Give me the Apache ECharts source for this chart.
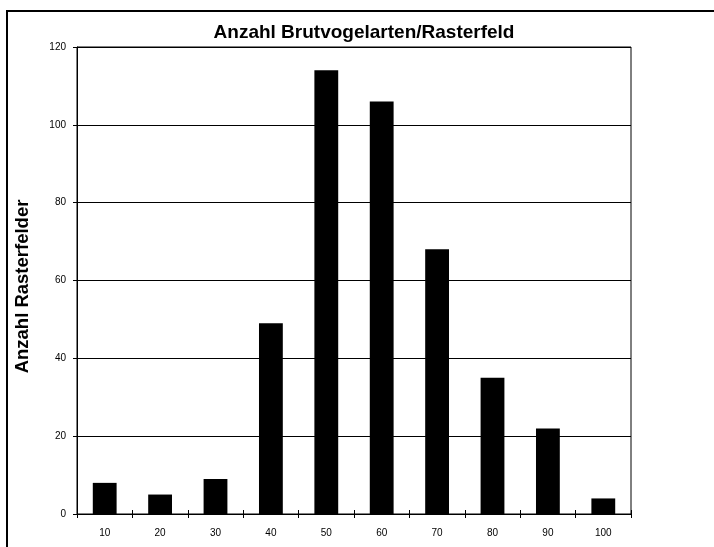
<!DOCTYPE html>
<html>
<head>
<meta charset="utf-8">
<script src="https://cdn.jsdelivr.net/npm/echarts@6/dist/echarts.min.js"></script>
<style>
  html, body { margin: 0; padding: 0; background: #fff; }
  #chart { width: 714px; height: 547px; }
</style>
</head>
<body>
<div id="chart"></div>
<script>
const categories = ['10', '20', '30', '40', '50', '60', '70', '80', '90', '100']
const counts = [8, 5, 9, 49, 114, 106, 68, 35, 22, 4]
const yMin = 0
const yMax = 120
const yStep = 20

const chart = echarts.init(document.getElementById('chart'))
const font = 'Liberation Sans, Arial, sans-serif'

chart.setOption({
  animation: false,
  backgroundColor: '#fff',
  title: {
    text: 'Anzahl Brutvogelarten/Rasterfeld',
    left: 359,
    top: 18,
    textAlign: 'center',
    textStyle: { color: '#000', fontFamily: font, fontWeight: 'bold', fontSize: 19 },
  },
  graphic: [
    {
      type: 'rect',
      shape: { x: 7, y: 11, width: 760, height: 600 },
      style: { fill: 'none', stroke: '#000', lineWidth: 2 },
      silent: true,
    },
  ],
  grid: { left: 77, right: 83, top: 47, bottom: 33, show: true, borderColor: '#000', borderWidth: 1, backgroundColor: 'transparent' },
  xAxis: [
    {
      type: 'category',
      data: categories,
      axisLine: { lineStyle: { color: '#000', width: 1 } },
      axisTick: { show: true, length: 4, lineStyle: { color: '#000' } },
      axisLabel: { color: '#000', fontFamily: font, fontSize: 10, margin: 14 },
    },
    {
      type: 'category',
      data: categories,
      position: 'bottom',
      axisLine: { show: false },
      axisTick: { show: true, inside: true, length: 4, lineStyle: { color: '#000' } },
      axisLabel: { show: false },
    },
  ],
  yAxis: {
    type: 'value',
    min: yMin,
    max: yMax,
    interval: yStep,
    name: 'Anzahl Rasterfelder',
    nameLocation: 'middle',
    nameGap: 45,
    nameTextStyle: { color: '#000', fontFamily: font, fontWeight: 'bold', fontSize: 18.5, padding: [0, 12, 0, 0] },
    axisLine: { show: true, lineStyle: { color: '#000' } },
    axisTick: { show: true, length: 4, lineStyle: { color: '#000' } },
    axisLabel: { color: '#000', fontFamily: font, fontSize: 10, margin: 11 },
    splitLine: { show: true, lineStyle: { color: '#000', width: 1 } },
  },
  series: [
    {
      type: 'bar',
      data: counts,
      barWidth: '43%',
      itemStyle: { color: '#000' },
    },
  ],
})
</script>
</body>
</html>
